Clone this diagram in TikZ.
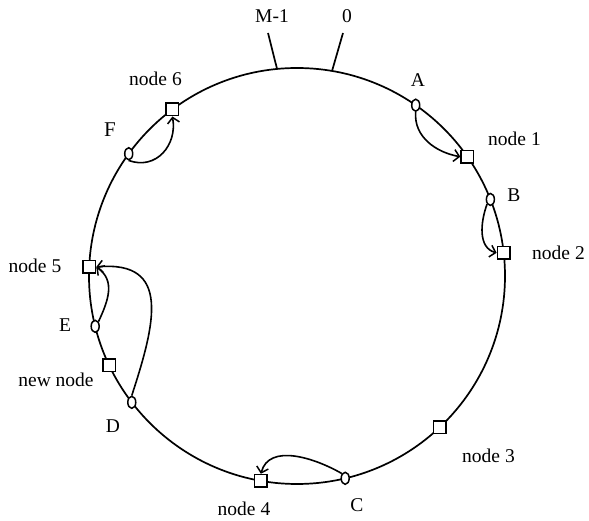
\documentclass[tikz,border=0pt]{standalone}
\usepackage{fontspec}
\setmainfont{Liberation Serif}
\usetikzlibrary{arrows.meta,shapes.geometric}

\tikzset{
  ring/.style={line width=1.7pt},
  peer/.style={draw, fill=white, line width=1.6pt, minimum size=12.5pt, inner sep=0pt},
  key/.style={draw, fill=white, ellipse, line width=1.5pt, minimum width=8pt, minimum height=12pt, inner sep=0pt},
  lbl/.style={anchor=base, font=\fontsize{19.5}{22}\selectfont, inner sep=0pt},
  hop/.style={line width=1.6pt, -{Straight Barb[length=5.5pt,width=12pt,line width=1.5pt]}},
}

\begin{document}
\begin{tikzpicture}[x=1pt,y=1pt]
  \useasboundingbox (-297,276) rectangle (292,-245);

  % identifier ring
  \coordinate (ctr) at (0,0);
  \draw[ring] (ctr) circle (208);

  % ends of the identifier space
  \coordinate (tm1) at (95.5:208);
  \coordinate (tz) at (80.3:208);
  \coordinate (tm1e) at (-29,243);
  \coordinate (tze) at (46,243);
  \draw[ring] (tm1) -- (tm1e);
  \draw[ring] (tz) -- (tze);
  \node[lbl] (lm1) at (-25,253) {M-1};
  \node[lbl] (lz) at (50,253) {0};

  % keys on the ring
  \node[key] (A) at (55.2:208) {};
  \node[key] (B) at (21.6:208) {};
  \node[key] (C) at (283.4:208) {};
  \node[key] (D) at (217.4:208) {};
  \node[key] (E) at (194:208) {};
  \node[key] (F) at (144:208) {};

  % peers on the ring
  \node[peer] (n1) at (35:208) {};
  \node[peer] (n2) at (6.4:208) {};
  \node[peer] (n3) at (313.4:208) {};
  \node[peer] (n4) at (260:208) {};
  \node[peer] (n5) at (177.5:208) {};
  \node[peer] (n6) at (126.8:208) {};
  \node[peer] (nn) at (205.4:208) {};

  % labels
  \node[lbl] (lA) at (121,189) {A};
  \node[lbl] (lB) at (217,74) {B};
  \node[lbl] (lC) at (60,-236) {C};
  \node[lbl] (lD) at (-184,-157) {D};
  \node[lbl] (lE) at (-232,-56) {E};
  \node[lbl, font=\fontsize{21}{24}\selectfont] (lF) at (-187,139) {F};
  \node[lbl] (l1) at (217.5,130) {node 1};
  \node[lbl] (l2) at (261.5,16) {node 2};
  \node[lbl] (l3) at (191.5,-187) {node 3};
  \node[lbl] (l4) at (-53,-240) {node 4};
  \node[lbl] (l5) at (-262,3) {node 5};
  \node[lbl] (l6) at (-141.5,190) {node 6};
  \node[lbl] (lnn) at (-241,-111) {new node};

  % each key is stored at its successor
  \draw[hop] (A.south) to[out=-95, in=170] (n1.west);
  \draw[hop] (B.south west) to[out=-110, in=165] (n2.west);
  \draw[hop] (C.north west) to[out=150, in=75] (n4.north);
  \draw[hop] (D.north) to[out=72, in=5, looseness=1.45] (n5.east);
  \draw[hop] (E.north east) to[out=65, in=-35, looseness=1.1] (n5.east);
  \draw[hop] (F.south) to[out=-20, in=-80, looseness=1.2] (n6.south);
\end{tikzpicture}
\end{document}
